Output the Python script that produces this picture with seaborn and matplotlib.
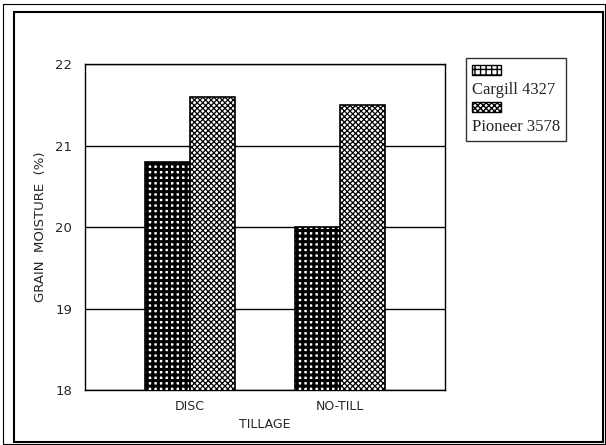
import pandas as pd
import matplotlib
matplotlib.use("Agg")
import matplotlib.pyplot as plt
import seaborn as sns
from matplotlib.patches import Patch, Rectangle
from matplotlib.lines import Line2D

sns.set_style("white")
plt.rcParams["hatch.linewidth"] = 1.0
plt.rcParams["font.family"] = ["DejaVu Sans"]

tillage = ["DISC", "NO-TILL"]
hybrids = ["Cargill 4327", "Pioneer 3578"]
cargill = [20.8, 20.0]
pioneer = [21.6, 21.5]

df = pd.DataFrame({
    "TILLAGE": tillage * 2,
    "Hybrid": [hybrids[0]] * 2 + [hybrids[1]] * 2,
    "Moisture": cargill + pioneer,
})

fig = plt.figure(figsize=(6.06, 4.45), dpi=100)
ax = fig.add_axes([0.140, 0.1236, 0.594, 0.732])

sns.barplot(data=df, x="TILLAGE", y="Moisture", hue="Hybrid",
            order=tillage, hue_order=hybrids, width=0.6,
            palette=["white", "white"], edgecolor="black", linewidth=1.2,
            legend=False, ax=ax, zorder=3)

hatches = ["+++", "xxxxxx"]
hatch_lw = [2.2, 0.9]


def style_patch(p, h, lw):
    p.set_hatch(h)
    p.set_edgecolor("black")
    if hasattr(p, "set_hatch_linewidth"):
        p.set_hatch_linewidth(lw)


for cont, h, lw in zip(ax.containers, hatches, hatch_lw):
    for bar in cont:
        style_patch(bar, h, lw)

ax.set_ylim(18, 22)
ax.set_xlim(-0.7, 1.7)
ax.set_yticks([18, 19, 20, 21, 22])
ax.yaxis.grid(True, color="black", linewidth=1.0)
ax.set_axisbelow(True)
for s in ax.spines.values():
    s.set_color("black")
    s.set_linewidth(1.0)

ax.tick_params(axis="y", length=5, width=1, direction="out", labelsize=9.5, pad=4, color="black")
ax.tick_params(axis="x", which="major", length=0, labelsize=9, pad=7)
ax.set_xticks([0.5], minor=True)
ax.tick_params(axis="x", which="minor", length=5, width=1, direction="inout", color="black")

ax.set_xlabel("TILLAGE", fontsize=9, labelpad=4)
ax.set_ylabel("GRAIN  MOISTURE  (%)", fontsize=9.5, labelpad=6)

handles = []
for h, lw in zip(hatches, hatch_lw):
    p = Patch(facecolor="white", edgecolor="black")
    style_patch(p, h, lw)
    handles += [p, Line2D([], [], color="none")]
labels = ["", hybrids[0], "", hybrids[1]]
leg = fig.legend(handles, labels, loc="upper left", bbox_to_anchor=(0.769, 0.870),
                 bbox_transform=fig.transFigure, frameon=True, fancybox=False,
                 edgecolor="black", handlelength=1.75, handleheight=0.6,
                 handletextpad=-1.75, labelspacing=0.15, borderpad=0.35,
                 borderaxespad=0, prop={"family": "Liberation Serif", "size": 12})
leg.get_frame().set_linewidth(1.0)

# double frame around the figure
fig.patches.append(Rectangle((3 / 606, 1 / 445), 602 / 606, 440 / 445, transform=fig.transFigure,
                             fill=False, edgecolor="black", linewidth=0.8))
fig.patches.append(Rectangle((14 / 606, 3 / 445), 589 / 606, 430 / 445, transform=fig.transFigure,
                             fill=False, edgecolor="black", linewidth=1.5))

fig.savefig("out.png", dpi=100)
